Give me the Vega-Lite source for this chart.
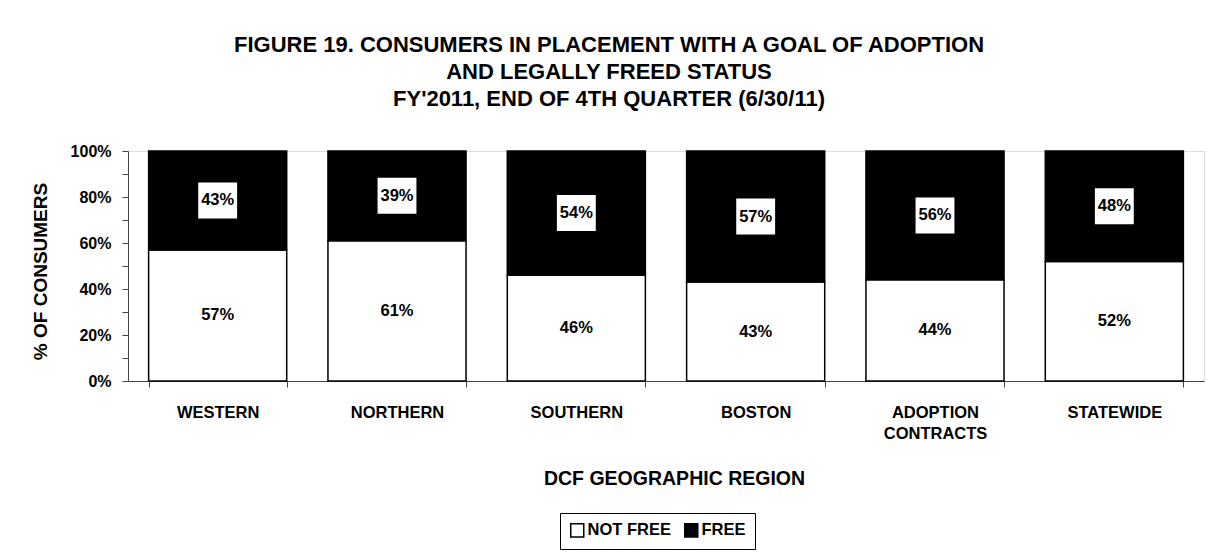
{
  "$schema": "https://vega.github.io/schema/vega-lite/v6.json",
  "width": 1076,
  "height": 230,
  "autosize": "none",
  "padding": {"left": 128, "top": 151, "right": 20, "bottom": 175},
  "background": "white",
  "config": {"font": "Liberation Sans"},
  "title": {
    "text": ["FIGURE 19. CONSUMERS IN PLACEMENT WITH A GOAL OF ADOPTION", "AND LEGALLY FREED STATUS", "FY'2011, END OF 4TH QUARTER (6/30/11)"],
    "font": "Liberation Sans",
    "fontSize": 22,
    "fontWeight": "bold",
    "color": "black",
    "lineHeight": 27,
    "anchor": "middle",
    "dx": -57,
    "offset": 32
  },
  "data": {
    "values": [
      {"region": "WESTERN", "status": "NOT FREE", "value": 0.57},
      {"region": "WESTERN", "status": "FREE", "value": 0.43},
      {"region": "NORTHERN", "status": "NOT FREE", "value": 0.61},
      {"region": "NORTHERN", "status": "FREE", "value": 0.39},
      {"region": "SOUTHERN", "status": "NOT FREE", "value": 0.46},
      {"region": "SOUTHERN", "status": "FREE", "value": 0.54},
      {"region": "BOSTON", "status": "NOT FREE", "value": 0.43},
      {"region": "BOSTON", "status": "FREE", "value": 0.57},
      {"region": "ADOPTION CONTRACTS", "status": "NOT FREE", "value": 0.44},
      {"region": "ADOPTION CONTRACTS", "status": "FREE", "value": 0.56},
      {"region": "STATEWIDE", "status": "NOT FREE", "value": 0.52},
      {"region": "STATEWIDE", "status": "FREE", "value": 0.48}
    ]
  },
  "encoding": {
    "x": {
      "field": "region",
      "type": "nominal",
      "sort": ["WESTERN", "NORTHERN", "SOUTHERN", "BOSTON", "ADOPTION CONTRACTS", "STATEWIDE"],
      "scale": {"paddingInner": 0.23, "paddingOuter": 0.115},
      "axis": {
        "title": "DCF GEOGRAPHIC REGION",
        "titleFont": "Liberation Sans",
        "titleFontSize": 19.5,
        "titleFontWeight": "bold",
        "titleColor": "black",
        "titleX": 546,
        "titleY": 97,
        "titleBaseline": "middle",
        "labelAngle": 0,
        "labelFont": "Liberation Sans",
        "labelFontSize": 16.5,
        "labelFontWeight": "bold",
        "labelColor": "black",
        "labelLineHeight": 21,
        "labelPadding": 17,
        "labelExpr": "datum.label == 'ADOPTION CONTRACTS' ? ['ADOPTION', 'CONTRACTS'] : datum.label",
        "tickBand": "extent",
        "tickSize": 6,
        "tickColor": "#444",
        "domainColor": "#444",
        "grid": false
      }
    },
    "y": {
      "field": "value",
      "type": "quantitative",
      "stack": "zero",
      "scale": {"domain": [0, 1], "nice": false},
      "axis": {
        "title": "% OF CONSUMERS",
        "titleFont": "Liberation Sans",
        "titleFontSize": 19,
        "titleFontWeight": "bold",
        "titleColor": "black",
        "titleAngle": -90,
        "titleX": -88,
        "titleY": 120,
        "titleBaseline": "middle",
        "titleAlign": "center",
        "values": [0, 0.1, 0.2, 0.3, 0.4, 0.5, 0.6, 0.7, 0.8, 0.9, 1],
        "format": ".0%",
        "labelExpr": "round(datum.value * 100) % 20 == 0 ? datum.label : ''",
        "labelFont": "Liberation Sans",
        "labelFontSize": 16,
        "labelFontWeight": "bold",
        "labelColor": "black",
        "labelPadding": 11,
        "tickSize": 6,
        "tickColor": "#444",
        "domainColor": "#444",
        "grid": false
      }
    },
    "order": {"field": "status", "sort": "descending"}
  },
  "layer": [
    {
      "mark": {"type": "bar", "stroke": "black", "strokeWidth": 1.5},
      "encoding": {
        "color": {
          "field": "status",
          "type": "nominal",
          "scale": {"domain": ["NOT FREE", "FREE"], "range": ["white", "black"]},
          "legend": {
            "title": null,
            "orient": "none",
            "legendX": 432,
            "legendY": 362,
            "direction": "horizontal",
            "strokeColor": "black",
            "padding": 9,
            "symbolType": "square",
            "symbolSize": 170,
            "symbolStrokeColor": "black",
            "symbolStrokeWidth": 1.5,
            "labelFont": "Liberation Sans",
            "labelFontSize": 16.5,
            "labelFontWeight": "bold",
            "labelColor": "black",
            "labelOffset": 2,
            "columnPadding": 10
          }
        }
      }
    },
    {
      "mark": {"type": "point", "shape": "M-1.08,-1L1.08,-1L1.08,1L-1.08,1Z", "filled": true, "fill": "white", "size": 1296, "strokeWidth": 0},
      "encoding": {
        "y": {"field": "value", "type": "quantitative", "stack": "zero", "bandPosition": 0.5},
        "opacity": {"condition": {"test": "datum.status == 'FREE'", "value": 1}, "value": 0}
      }
    },
    {
      "mark": {"type": "text", "font": "Liberation Sans", "fontSize": 16.5, "fontWeight": "bold", "color": "black", "baseline": "middle"},
      "encoding": {
        "y": {"field": "value", "type": "quantitative", "stack": "zero", "bandPosition": 0.5},
        "text": {"field": "value", "type": "quantitative", "format": ".0%"}
      }
    }
  ]
}
